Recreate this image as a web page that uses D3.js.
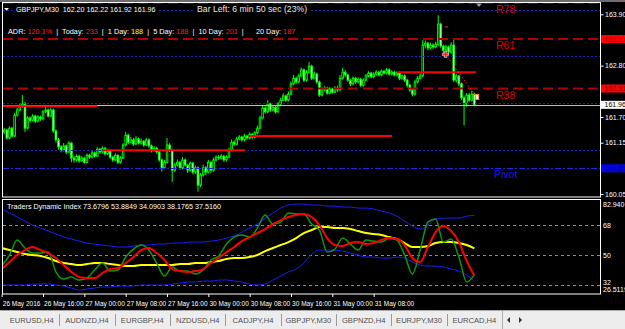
<!DOCTYPE html>
<html>
<head>
<meta charset="utf-8">
<script src="https://cdn.jsdelivr.net/npm/d3@7"></script>
<style>
html, body { margin: 0; padding: 0; background: #000; }
svg { display: block; }
</style>
</head>
<body>
<svg id="chart" width="625" height="329"></svg>
<script>

// GBPJPY M30 bars, first bar = 26 May 08:00
const firstOpen = 161.44
const closes = [
  161.38,161.42,161.25,161.46,161.29,161.74,161.85,161.93,161.98,161.46,
  161.68,161.63,161.72,161.61,161.70,161.66,161.81,161.85,161.72,161.85,
  161.40,161.21,161.06,160.99,161.08,160.95,161.14,160.82,160.78,160.86,
  160.76,160.82,160.73,160.88,160.84,160.93,160.86,161.01,160.95,161.03,
  160.91,160.97,160.84,160.78,160.88,160.73,160.82,161.10,161.31,161.16,
  161.21,161.12,161.23,161.14,161.18,161.10,161.21,161.08,160.99,161.03,
  160.95,160.78,160.61,160.73,161.10,160.99,160.56,160.67,160.73,160.61,
  160.78,160.67,160.56,160.71,160.52,160.61,160.24,160.46,160.61,160.52,
  160.73,160.56,160.78,160.84,160.82,160.86,160.78,160.84,160.99,161.16,
  161.12,161.23,161.27,161.21,161.29,161.25,161.33,161.27,161.36,161.46,
  161.68,161.89,161.81,161.98,161.85,161.91,161.81,161.98,162.06,162.15,
  162.06,162.19,162.41,162.53,162.45,162.58,162.71,162.49,162.66,162.79,
  162.53,162.62,162.45,162.17,162.28,162.32,162.21,162.30,162.23,162.32,
  162.28,162.53,162.66,162.60,162.49,162.41,162.53,162.45,162.51,162.38,
  162.49,162.58,162.64,162.56,162.62,162.66,162.60,162.68,162.64,162.71,
  162.62,162.66,162.60,162.64,162.53,162.58,162.49,162.38,162.28,162.19,
  162.45,162.53,162.58,163.24,163.28,163.18,163.24,163.20,163.26,163.69,
  163.22,163.13,163.20,163.09,163.24,162.49,162.58,162.41,162.11,161.98,
  162.17,162.06,162.19,161.96
]
const highs = [
  161.48,161.47,161.45,161.50,161.49,161.79,161.90,161.99,162.17,162.02,
  161.72,161.71,161.76,161.75,161.74,161.73,161.85,161.91,161.88,161.90,
  161.88,161.44,161.25,161.10,161.14,161.11,161.18,161.16,160.86,160.90,
  160.89,160.86,160.85,160.92,160.91,160.98,160.96,161.05,161.04,161.07,
  161.06,161.01,161.00,160.87,160.92,160.90,160.86,161.14,161.38,161.34,
  161.27,161.25,161.29,161.26,161.24,161.21,161.25,161.24,161.11,161.08,
  161.06,160.98,160.81,160.78,161.25,161.14,161.02,160.72,160.79,160.76,
  160.84,160.81,160.70,160.75,160.74,160.66,160.64,160.50,160.68,160.65,
  160.78,160.76,160.83,160.88,160.89,160.91,160.89,160.88,161.04,161.22,
  161.20,161.28,161.31,161.30,161.34,161.32,161.37,161.36,161.40,161.52,
  161.73,161.95,161.93,162.06,162.01,161.96,161.94,162.02,162.11,162.21,
  162.18,162.25,162.46,162.60,162.57,162.63,162.76,162.74,162.71,162.88,
  162.82,162.67,162.65,162.48,162.33,162.36,162.35,162.34,162.33,162.36,
  162.37,162.60,162.75,162.70,162.63,162.52,162.57,162.56,162.55,162.54,
  162.53,162.62,162.68,162.67,162.66,162.70,162.69,162.72,162.71,162.75,
  162.74,162.70,162.69,162.68,162.67,162.62,162.61,162.52,162.41,162.31,
  162.50,162.58,162.64,163.35,163.34,163.31,163.29,163.28,163.31,163.88,
  163.72,163.25,163.25,163.23,163.30,163.38,162.62,162.60,162.44,162.15,
  162.21,162.22,162.26,162.22
]
const lows = [
  161.34,161.33,161.21,161.23,161.26,161.27,161.71,161.82,161.90,161.38,
  161.44,161.58,161.60,161.57,161.58,161.62,161.63,161.78,161.69,161.70,
  161.36,161.15,161.00,160.94,160.96,160.90,160.92,160.73,160.72,160.74,
  160.72,160.73,160.70,160.71,160.80,160.81,160.83,160.84,160.91,160.92,
  160.87,160.88,160.80,160.74,160.75,160.69,160.70,160.80,161.07,161.12,
  161.13,161.08,161.10,161.11,161.11,161.06,161.08,161.04,160.94,160.96,
  160.91,160.74,160.53,160.58,160.70,160.95,160.31,160.52,160.64,160.57,
  160.58,160.63,160.50,160.53,160.47,160.48,160.10,160.20,160.42,160.45,
  160.49,160.50,160.53,160.75,160.78,160.79,160.74,160.75,160.81,160.96,
  161.08,161.09,161.20,161.17,161.18,161.21,161.22,161.23,161.24,161.33,
  161.43,161.65,161.77,161.78,161.81,161.82,161.77,161.78,161.95,162.03,
  162.02,162.03,162.16,162.38,162.41,162.42,162.55,162.45,162.46,162.63,
  162.49,162.50,162.41,162.13,162.14,162.25,162.18,162.18,162.20,162.21,
  162.24,162.26,162.50,162.56,162.45,162.36,162.39,162.41,162.42,162.34,
  162.35,162.46,162.55,162.53,162.53,162.59,162.57,162.57,162.61,162.61,
  162.59,162.59,162.57,162.57,162.49,162.50,162.45,162.33,162.23,162.14,
  162.16,162.42,162.50,162.55,163.17,163.13,163.15,163.16,163.17,163.22,
  163.18,163.02,163.10,163.04,163.06,162.45,162.44,162.36,162.06,161.52,
  161.92,162.02,162.03,161.93
]

// Traders Dynamic Index, one value every 3 bars
const tdiStep = 3
const tdiUpper = [77.5,75.1,72.7,70.3,67.9,66.1,64.3,62.5,60.7,59.5,58.3,57.1,56.5,55.9,55.3,54.7,54.7,55.3,55.9,55.9,56.5,56.5,57.1,57.1,57.7,57.7,57.7,58.3,58.9,60.1,61.3,63.7,66.1,68.5,72.1,75.1,78.1,79.9,80.5,80.5,79.9,79.9,79.3,79.3,78.7,78.7,78.1,78.1,77.5,76.3,75.1,73.3,70.3,67.3,65.5,67.9,71.5,72.1,72.1,72.1,73.3,73.68]
const tdiLower = [31.9,31.9,31.9,31.9,32.5,32.5,32.5,31.9,31.3,30.1,28.9,29.5,30.1,30.7,30.7,31.3,31.3,31.3,31.9,31.9,31.9,31.9,32.5,33.1,33.7,33.7,34.3,34.3,34.9,34.9,34.3,33.7,32.5,31.9,32.5,34.9,37.3,39.7,41.5,45.1,50.5,52.9,52.9,52.9,52.3,51.1,49.9,48.7,48.7,48.1,48.1,48.7,48.1,45.7,43.9,43.3,43.3,42.7,41.5,40.3,37.9,34.09]
const tdiBase = [54.1,52.9,51.7,50.5,49.9,49.3,48.1,46.3,45.1,44.5,43.9,44.5,45.1,45.1,44.5,43.9,43.3,43.3,43.9,43.9,43.9,43.9,43.9,44.5,44.5,45.1,45.1,45.7,46.3,47.5,48.1,48.1,48.7,49.9,52.3,54.1,55.9,57.7,60.1,63.1,64.9,66.7,66.7,66.1,66.1,65.5,64.3,63.1,62.5,61.9,60.7,59.5,57.1,54.7,54.7,55.3,57.1,57.7,57.7,57.1,55.9,53.88]
const tdiRsi = [43.3,49.9,58.9,54.1,51.1,51.1,51.7,39.7,35.5,36.7,34.9,36.1,40.9,45.1,40.3,40.9,48.7,53.5,55.9,52.9,45.1,37.3,42.7,40.3,40.3,38.5,40.9,46.9,49.3,56.5,60.7,61.9,60.7,66.1,73.9,68.5,69.7,75.1,74.5,74.5,68.5,64.9,51.7,53.5,60.1,56.5,52.9,58.9,58.3,57.7,60.1,58.9,49.9,38.5,52.9,69.7,71.5,57.7,59.5,48.7,33.7,38.18]
const tdiSignal = [41.5,45.7,49.9,52.9,54.7,52.9,51.1,48.1,43.9,39.7,36.7,36.1,36.1,39.1,41.5,42.1,45.1,48.7,52.9,54.1,51.1,46.9,41.5,40.3,39.7,40.3,41.5,45.1,48.1,51.7,54.7,58.3,60.7,63.1,65.5,68.5,70.9,72.7,73.9,74.5,72.7,67.9,60.1,55.9,55.3,57.1,57.7,56.5,57.1,58.9,60.1,59.5,55.9,48.1,45.7,54.7,63.7,67.3,64.3,57.7,46.3,37.52]
const tdiLast = [73.6796, 53.8849, 34.0903, 38.1765, 37.5160]
const tdiLevels = [68, 50, 32]
const tdiTicks = [82.94, 68, 50, 32, 26.5119]
const tdiTickLabels = ['82.940', '68', '50', '32', '26.5119']

// levels on the price chart
const roundLevels = [164, 163, 162, 161]
const fibNames = ['R78', 'R61', 'R38']
const fibPrices = [164.15, 163.37, 162.31]
const pivotPrice = 160.60
const bidPrice = 161.96
const segStart = [0, 39.2, 96.1, 153.4]
const segEnd = [36.9, 94.3, 151.1, 183.6]
const segPrice = [161.93, 160.99, 161.29, 162.66]
const tradeBars = [171.8, 183.9]
const tradePrices = [163.04, 162.13]

const priceTicks = [163.90, 162.80, 161.70, 161.15, 160.05]
const timeTicks = [0, 16, 32, 48, 64, 80, 96, 112, 128, 144]
const timeLabels = ['26 May 2016','26 May 16:00','27 May 00:00','27 May 08:00','27 May 16:00',
                    '30 May 00:00','30 May 08:00','30 May 16:00','31 May 00:00','31 May 08:00']

const symbol = 'GBPJPY,M30'
const ohlc = [162.20, 162.22, 161.92, 161.96]
const barLeft = 'Bar Left: 6 min 50 sec (23%)'
const adrNames = ['ADR:', 'Today:', '1 Day:', '5 Day:', '10 Day:', '20 Day:']
const adrValues = ['120.1%', '233', '188', '188', '201', '187']
const tabs = ['EURUSD,H4','AUDNZD,H4','EURGBP,H4','NZDUSD,H4','CADJPY,H4','GBPJPY,M30','GBPNZD,H4','EURJPY,M30','EURCAD,H4']


const FONT = "'Liberation Sans', Arial, sans-serif"
const W = 625, H = 329
const plot = {left: 3, right: 600, top: 3, bottom: 197}
const sub = {top: 200, bottom: 294}
const barSpacing = 2.583
const crisp = v => Math.round(v) + 0.5

const svg = d3.select('#chart').attr('font-family', FONT)
svg.append('rect').attr('width', W).attr('height', H).attr('fill', '#000')
svg.append('rect').attr('width', W).attr('height', 2).attr('fill', '#6e6e6e')

const defs = svg.append('defs')
defs.append('clipPath').attr('id', 'clipMain').append('rect')
  .attr('x', plot.left).attr('y', plot.top)
  .attr('width', plot.right - plot.left).attr('height', plot.bottom - plot.top)
defs.append('clipPath').attr('id', 'clipSub').append('rect')
  .attr('x', plot.left).attr('y', sub.top)
  .attr('width', plot.right - plot.left).attr('height', sub.bottom - sub.top)

const x = d3.scaleLinear()
  .domain([0, closes.length - 1])
  .range([plot.left - 1.3, plot.left - 1.3 + (closes.length - 1) * barSpacing])
const yPrice = d3.scaleLinear().domain([160.05, 163.90]).range([194, 14.3])
const yTdi = d3.scaleLinear().domain([26.5119, 82.94]).range([sub.bottom, sub.top])

const main = svg.append('g').attr('clip-path', 'url(#clipMain)')

// candles
const bars = closes.map((c, i) => ({i, o: i ? closes[i - 1] : firstOpen, h: highs[i], l: lows[i], c}))
const candles = main.append('g')
candles.selectAll('line').data(bars).join('line')
  .attr('x1', d => x(d.i)).attr('x2', d => x(d.i))
  .attr('y1', d => yPrice(d.h)).attr('y2', d => yPrice(d.l))
  .attr('stroke', '#00ff00').attr('stroke-width', 1)
candles.selectAll('rect').data(bars).join('rect')
  .attr('x', d => x(d.i) - 0.8).attr('width', 1.6)
  .attr('y', d => yPrice(Math.max(d.o, d.c)))
  .attr('height', d => Math.max(0.6, Math.abs(yPrice(d.o) - yPrice(d.c))))
  .attr('fill', d => d.c < d.o ? '#ffffff' : '#000000')
  .attr('stroke', '#00ff00').attr('stroke-width', 0.9)

// round number levels
main.append('g').selectAll('line').data(roundLevels).join('line')
  .attr('x1', plot.left).attr('x2', plot.right)
  .attr('y1', d => crisp(yPrice(d))).attr('y2', d => crisp(yPrice(d)))
  .attr('stroke', '#2020c8').attr('stroke-dasharray', '2,2')

// pivot
main.append('line')
  .attr('x1', plot.left).attr('x2', plot.right)
  .attr('y1', crisp(yPrice(pivotPrice))).attr('y2', crisp(yPrice(pivotPrice)))
  .attr('stroke', '#2424e6').attr('stroke-dasharray', '6,2,2,2')

// bid line
main.append('line')
  .attr('x1', plot.left).attr('x2', plot.right)
  .attr('y1', crisp(yPrice(bidPrice))).attr('y2', crisp(yPrice(bidPrice)))
  .attr('stroke', '#c0c0c0')

// fib levels
main.append('g').selectAll('line').data(fibPrices).join('line')
  .attr('x1', plot.left).attr('x2', plot.right)
  .attr('y1', d => yPrice(d)).attr('y2', d => yPrice(d))
  .attr('stroke', '#b00000').attr('stroke-width', 2).attr('stroke-dasharray', '10,5')

// red segments
main.append('g').selectAll('line').data(segPrice).join('line')
  .attr('x1', (d, i) => x(segStart[i])).attr('x2', (d, i) => x(segEnd[i]))
  .attr('y1', d => yPrice(d)).attr('y2', d => yPrice(d))
  .attr('stroke', '#ff0000').attr('stroke-width', 2)

// trade line
main.append('line')
  .attr('x1', x(tradeBars[0])).attr('x2', x(tradeBars[1]))
  .attr('y1', yPrice(tradePrices[0])).attr('y2', yPrice(tradePrices[1]))
  .attr('stroke', '#ff2020').attr('stroke-dasharray', '1.5,2')
main.append('line')
  .attr('x1', x(tradeBars[0]) - 0.5).attr('x2', x(tradeBars[0]) + 2.5)
  .attr('y1', yPrice(163.63)).attr('y2', yPrice(163.63))
  .attr('stroke', '#ff2020')
main.append('path')
  .attr('d', d3.symbol(d3.symbolCross, 22)())
  .attr('transform', `translate(${x(tradeBars[0])},${yPrice(tradePrices[0])})`)
  .attr('fill', '#ff2020').attr('stroke', '#ffffff').attr('stroke-width', 0.5)
main.append('rect')
  .attr('x', x(tradeBars[1]) - 1).attr('y', yPrice(tradePrices[1]) - 2.5)
  .attr('width', 3).attr('height', 5)
  .attr('fill', '#ffffff').attr('stroke', '#ff9020').attr('stroke-width', 1)

// level names
const levelText = main.append('g').attr('font-size', 10.5)
levelText.selectAll('text.fib').data(fibNames).join('text').attr('class', 'fib')
  .attr('x', 496).attr('y', (d, i) => yPrice(fibPrices[i]) + 10)
  .attr('fill', '#e00000').text(d => d)
levelText.append('text')
  .attr('x', 494).attr('y', yPrice(pivotPrice) + 10)
  .attr('fill', '#1414ff').text('Pivot')

// chart shift marker
svg.append('path').attr('d', 'M476,3.5L482,3.5L479,7Z').attr('fill', '#a0a0a0')

// header texts with black background
function boxed(g, node, pad) {
  const b = node.node().getBBox()
  g.insert('rect', () => node.node())
    .attr('x', b.x - pad).attr('y', b.y).attr('width', b.width + 2 * pad).attr('height', b.height)
    .attr('fill', '#000')
}
const header = svg.append('g')
header.append('path').attr('d', 'M4,8L9,8L6.5,10.8Z').attr('fill', '#fff')
const head1 = header.append('text')
  .attr('x', 16).attr('y', 11.8).attr('font-size', 7.1).attr('fill', '#fff')
  .attr('xml:space', 'preserve')
  .text(symbol + '  ' + ohlc.map(d3.format('.2f')).join(' '))
boxed(header, head1, 2)
const head2 = header.append('text')
  .attr('x', 197).attr('y', 12.4).attr('font-size', 8.7).attr('fill', '#e8e8e8')
  .text(barLeft)
boxed(header, head2, 2)

const adr = svg.append('text')
  .attr('x', 8).attr('y', 34.2).attr('font-size', 7.3)
  .attr('xml:space', 'preserve')
adrNames.forEach((n, i) => {
  const sep = i === 0 ? '' : (i === 5 ? '  |      ' : '  |  ')
  adr.append('tspan').attr('fill', '#fff').text(sep + n + ' ')
  adr.append('tspan').attr('fill', i === 2 ? '#ffff00' : '#ff2020').text(adrValues[i])
})

// frames
svg.append('rect')
  .attr('x', plot.left - 0.5).attr('y', plot.top - 0.5)
  .attr('width', plot.right - plot.left + 1).attr('height', plot.bottom - plot.top + 0.5)
  .attr('fill', 'none').attr('stroke', '#fff')
svg.append('rect')
  .attr('x', plot.left - 0.5).attr('y', sub.top - 0.5)
  .attr('width', plot.right - plot.left + 1).attr('height', sub.bottom - sub.top + 0.5)
  .attr('fill', 'none').attr('stroke', '#fff')

// price axis
const priceAxis = svg.append('g').attr('transform', `translate(${plot.right + 0.5},0)`)
  .call(d3.axisRight(yPrice).tickValues(priceTicks).tickSize(3).tickPadding(1.5).tickFormat(d3.format('.2f')))
priceAxis.attr('font-size', 7).attr('font-family', FONT)
priceAxis.select('.domain').remove()
priceAxis.selectAll('line').attr('stroke', '#fff')
priceAxis.selectAll('text').attr('fill', '#fff')

// price tags
const tags = [
  {p: fibPrices[1], bg: '#ff0000', fg: '#8a0000'},
  {p: fibPrices[2], bg: '#ff0000', fg: '#8a0000'},
  {p: bidPrice, bg: '#ffffff', fg: '#000000'},
  {p: pivotPrice, bg: '#0000ff', fg: '#00007a'}
]
const tagG = svg.append('g').attr('font-size', 7)
tagG.selectAll('rect').data(tags).join('rect')
  .attr('x', plot.right + 1).attr('y', d => yPrice(d.p) - 4)
  .attr('width', W - plot.right).attr('height', 8).attr('fill', d => d.bg)
tagG.selectAll('text').data(tags).join('text')
  .attr('x', plot.right + 4.5).attr('y', d => yPrice(d.p) + 2.5)
  .attr('fill', d => d.fg).text(d => d3.format('.2f')(d.p))

// TDI
const subG = svg.append('g').attr('clip-path', 'url(#clipSub)')
subG.append('g').selectAll('line').data(tdiLevels).join('line')
  .attr('x1', plot.left).attr('x2', plot.right)
  .attr('y1', d => crisp(yTdi(d))).attr('y2', d => crisp(yTdi(d)))
  .attr('stroke', '#8a8a8a').attr('stroke-dasharray', '3,3')
const tdiLine = d3.line().x((d, k) => x(k * tdiStep)).y(d => yTdi(d)).curve(d3.curveMonotoneX)
const tdiSeries = [
  {v: tdiUpper, c: '#1c1cff', w: 1},
  {v: tdiLower, c: '#1c1cff', w: 1},
  {v: tdiBase, c: '#ffff00', w: 2},
  {v: tdiRsi, c: '#0c9a0c', w: 1.5},
  {v: tdiSignal, c: '#ff0000', w: 2}
]
subG.selectAll('path.tdi').data(tdiSeries).join('path').attr('class', 'tdi')
  .attr('d', d => tdiLine(d.v))
  .attr('fill', 'none').attr('stroke', d => d.c).attr('stroke-width', d => d.w)
  .attr('stroke-linejoin', 'round')

svg.append('text')
  .attr('x', 7).attr('y', 209.3).attr('font-size', 7.2).attr('fill', '#fff')
  .text('Traders Dynamic Index ' + tdiLast.map(d3.format('.4f')).join(' '))

const tdiAxis = svg.append('g').attr('transform', `translate(${plot.right},0)`)
  .call(d3.axisRight(yTdi).tickValues(tdiTicks).tickSize(0).tickPadding(3)
    .tickFormat((d, i) => tdiTickLabels[i]))
tdiAxis.attr('font-size', 7).attr('font-family', FONT)
tdiAxis.select('.domain').remove()
tdiAxis.selectAll('text').attr('fill', '#fff')
  .attr('transform', (d, i) => i === 0 ? 'translate(0,4)' : i === tdiTicks.length - 1 ? 'translate(0,-5)' : i === 3 ? 'translate(0,-3)' : null)

// time axis
const timeAxis = svg.append('g').attr('transform', `translate(0,${sub.bottom})`)
  .call(d3.axisBottom(x).tickValues(timeTicks).tickSize(3).tickPadding(4)
    .tickFormat((d, i) => timeLabels[i]))
timeAxis.attr('font-size', 6.5).attr('font-family', FONT)
timeAxis.select('.domain').remove()
timeAxis.selectAll('line').attr('stroke', '#fff')
timeAxis.selectAll('text').attr('fill', '#fff').attr('text-anchor', 'start').attr('x', 0.6)

// tab bar
const tabBar = svg.append('g')
tabBar.append('rect').attr('x', 0).attr('y', 310).attr('width', W).attr('height', H - 310).attr('fill', '#ededed')
tabBar.append('line').attr('x1', 0).attr('x2', W).attr('y1', 310.5).attr('y2', 310.5).attr('stroke', '#a8a8a8')
const tabX = d3.scaleBand().domain(tabs).range([4, 502])
tabBar.selectAll('text').data(tabs).join('text')
  .attr('x', d => tabX(d) + tabX.bandwidth() / 2).attr('y', 323.3)
  .attr('text-anchor', 'middle').attr('font-size', 7.6).attr('fill', '#505050')
  .text(d => d)
tabBar.selectAll('line.sep').data(tabs.slice(1)).join('line').attr('class', 'sep')
  .attr('x1', d => crisp(tabX(d))).attr('x2', d => crisp(tabX(d)))
  .attr('y1', 314).attr('y2', 326).attr('stroke', '#9a9a9a')
tabBar.append('line').attr('x1', 502.5).attr('x2', 502.5).attr('y1', 311).attr('y2', 329).attr('stroke', '#b0b0b0')
tabBar.append('path').attr('d', 'M510,317L510,323L507,320Z').attr('fill', '#303030')
tabBar.append('path').attr('d', 'M519,317L519,323L522,320Z').attr('fill', '#303030')

</script>
</body>
</html>
